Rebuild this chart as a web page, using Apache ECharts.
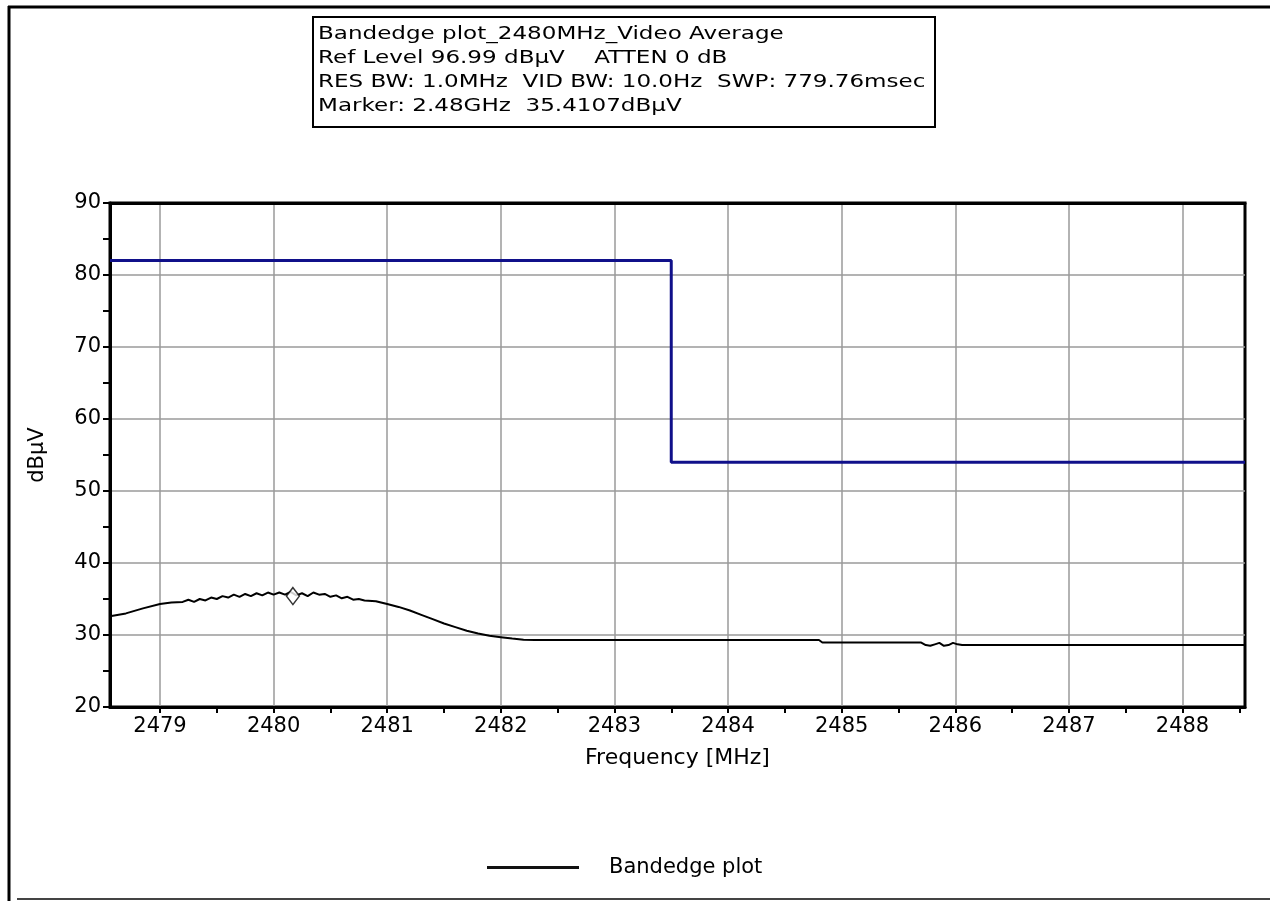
<!DOCTYPE html>
<html>
<head>
<meta charset="utf-8">
<script src="https://cdn.jsdelivr.net/npm/echarts@6/dist/echarts.min.js"></script>
<style>html,body{margin:0;padding:0;background:#fff;}#c{width:1270px;height:901px;}</style>
</head>
<body>
<div id="c"></div>
<script>
// ---- data ----
var titleLines = [
  'Bandedge plot_2480MHz_Video Average',
  'Ref Level 96.99 dB\u00b5V    ATTEN 0 dB',
  'RES BW: 1.0MHz  VID BW: 10.0Hz  SWP: 779.76msec',
  'Marker: 2.48GHz  35.4107dB\u00b5V'
];
var traceName = 'Bandedge plot';
var traceFreq = [2478.56,2478.7,2478.85,2479.0,2479.1,2479.2,2479.25,2479.3,2479.35,2479.4,2479.45,2479.5,2479.55,2479.6,2479.65,2479.7,2479.75,2479.8,2479.85,2479.9,2479.95,2480.0,2480.05,2480.1,2480.15,2480.2,2480.25,2480.3,2480.35,2480.4,2480.45,2480.5,2480.55,2480.6,2480.65,2480.7,2480.75,2480.8,2480.9,2481.0,2481.1,2481.2,2481.3,2481.4,2481.5,2481.6,2481.7,2481.8,2481.9,2482.0,2482.1,2482.2,2482.3,2482.5,2483.0,2483.5,2484.0,2484.5,2484.8,2484.83,2485.0,2485.5,2485.7,2485.74,2485.78,2485.82,2485.86,2485.9,2485.94,2485.98,2486.02,2486.06,2486.5,2487.0,2488.0,2488.55];
var traceLevel = [32.6,33.0,33.7,34.3,34.5,34.6,34.9,34.6,35.0,34.8,35.2,35.0,35.4,35.2,35.6,35.3,35.7,35.4,35.8,35.5,35.9,35.6,35.9,35.6,36.0,35.5,35.8,35.4,35.9,35.6,35.7,35.3,35.5,35.1,35.3,34.9,35.0,34.8,34.7,34.3,33.9,33.4,32.8,32.2,31.6,31.1,30.6,30.2,29.9,29.7,29.5,29.35,29.3,29.3,29.3,29.3,29.3,29.3,29.3,28.95,28.95,28.95,28.95,28.6,28.5,28.7,28.9,28.5,28.6,28.9,28.7,28.6,28.6,28.6,28.6,28.6];
var limitFreq = [2478.56, 2483.5, 2483.5, 2488.55];
var limitLevel = [82, 82, 54, 54];
var markerFreq = [2480.17];
var markerLevel = [35.41];
var xLabelValues = [2479,2480,2481,2482,2483,2484,2485,2486,2487,2488];
var xHalfTickValues = [2479.5,2480.5,2481.5,2482.5,2483.5,2484.5,2485.5,2486.5,2487.5,2488.5];
var xMin = 2478.56, xMax = 2488.55;
var yMin = 20, yMax = 90, yStep = 10;
var xName = 'Frequency [MHz]';
var yName = 'dB\u00b5V';

function pairs(a, b) { return a.map(function (v, i) { return [v, b[i]]; }); }

var FONT = 'DejaVu Sans';
var chart = echarts.init(document.getElementById('c'), null, {renderer: 'canvas'});
chart.setOption({
  backgroundColor: '#fff',
  animation: false,
  textStyle: {fontFamily: FONT, color: '#000'},
  graphic: [
    {type: 'line', shape: {x1: 8, y1: 7, x2: 1270, y2: 7}, style: {stroke: '#000', lineWidth: 3}},
    {type: 'line', shape: {x1: 9, y1: 6, x2: 9, y2: 901}, style: {stroke: '#000', lineWidth: 3}},
    {type: 'line', shape: {x1: 17, y1: 899, x2: 1270, y2: 899}, style: {stroke: '#444', lineWidth: 2}},
    {type: 'rect', shape: {x: 313, y: 17, width: 622, height: 110}, style: {fill: '#fff', stroke: '#000', lineWidth: 2}},
    {type: 'text', x: 318, y: 22, scaleX: 1.28, style: {text: titleLines.join('\n'), font: '18px "DejaVu Sans"', fill: '#000', lineHeight: 24}}
  ],
  grid: {left: 110, right: 25, top: 203, bottom: 194, show: true, borderColor: '#000', borderWidth: 3, backgroundColor: 'transparent'},
  legend: {
    left: 482, top: 852,
    data: [{name: traceName, icon: 'rect'}],
    itemWidth: 92, itemHeight: 3,
    textStyle: {fontFamily: FONT, fontSize: 21, color: '#000', padding: [0, 0, 0, 25]}
  },
  xAxis: [
    {
      type: 'value', min: xMin, max: xMax, splitNumber: 10, minInterval: 1, maxInterval: 1,
      name: xName, nameLocation: 'middle', nameGap: 40,
      nameTextStyle: {fontFamily: FONT, fontSize: 22, color: '#000'},
      axisLine: {show: true, lineStyle: {color: '#000', width: 3}},
      axisTick: {show: true, inside: false, length: 6, customValues: xLabelValues, lineStyle: {color: '#000', width: 2}},
      axisLabel: {customValues: xLabelValues, fontFamily: FONT, fontSize: 21, color: '#000', margin: 9,
        formatter: function (v) { return String(Math.round(v)); }},
      splitLine: {show: true, lineStyle: {color: '#9a9a9a', width: 1.5}}
    },
    {
      type: 'value', min: xMin, max: xMax, position: 'bottom',
      axisLine: {show: false},
      axisTick: {show: true, inside: false, length: 6, customValues: xHalfTickValues, lineStyle: {color: '#000', width: 2}},
      axisLabel: {show: false},
      splitLine: {show: false}
    },
    {
      type: 'value', min: xMin, max: xMax, position: 'top', z: 5,
      axisLine: {show: true, lineStyle: {color: '#000', width: 3}},
      axisTick: {show: false}, axisLabel: {show: false}, splitLine: {show: false}
    }
  ],
  yAxis: {
    type: 'value', min: yMin, max: yMax, interval: yStep,
    name: yName, nameLocation: 'middle', nameGap: 62, nameRotate: 90,
    nameTextStyle: {fontFamily: FONT, fontSize: 21, color: '#000'},
    axisLine: {show: true, lineStyle: {color: '#000', width: 3}},
    axisTick: {show: true, inside: false, length: 7, lineStyle: {color: '#000', width: 2}},
    minorTick: {show: true, splitNumber: 2, length: 7, lineStyle: {color: '#000', width: 2}},
    axisLabel: {fontFamily: FONT, fontSize: 21, color: '#000', margin: 9},
    splitLine: {show: true, lineStyle: {color: '#9a9a9a', width: 1.5}}
  },
  series: [
    {
      name: 'Limit', type: 'line', data: pairs(limitFreq, limitLevel),
      showSymbol: false, symbol: 'none', z: 3,
      lineStyle: {color: '#10108a', width: 3}, itemStyle: {color: '#10108a'}
    },
    {
      name: traceName, type: 'line', data: pairs(traceFreq, traceLevel),
      showSymbol: false, symbol: 'none', z: 4,
      lineStyle: {color: '#000', width: 2}, itemStyle: {color: '#111'}
    },
    {
      name: 'Marker', type: 'scatter', data: pairs(markerFreq, markerLevel),
      symbol: 'diamond', symbolSize: [13, 17], z: 5,
      itemStyle: {color: '#fff', borderColor: '#000', borderWidth: 1.5}
    }
  ]
});
</script>
</body>
</html>
